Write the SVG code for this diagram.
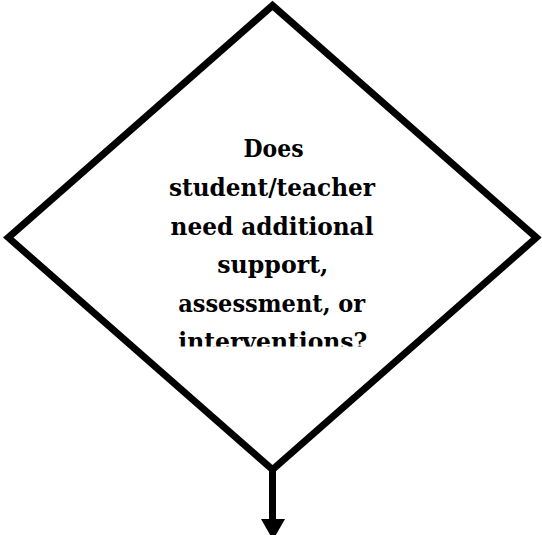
<svg xmlns="http://www.w3.org/2000/svg" width="542" height="535" viewBox="0 0 542 535">
<style>
.shape{fill:#fff;stroke:#000;stroke-width:7;stroke-linejoin:miter;stroke-miterlimit:10}
.lbl{font-family:"DejaVu Serif","Liberation Serif",serif;font-size:24px;font-weight:bold;fill:#000;text-anchor:middle}
.conn{stroke:#000;stroke-width:7;fill:none}
</style>
<defs>
<clipPath id="txtclip"><rect x="140" y="120" width="265" height="226.5"/></clipPath>
</defs>
<rect width="542" height="535" fill="#fff"/>
<g id="decision">
<path class="shape" d="M272.5,5.5 L536.4,237.6 L272.5,469.7 L8.3,237.6 Z"/>
<g clip-path="url(#txtclip)">
<text class="lbl" x="273.5" y="157" textLength="60" lengthAdjust="spacingAndGlyphs">Does</text>
<text class="lbl" x="272" y="196" textLength="206" lengthAdjust="spacingAndGlyphs">student/teacher</text>
<text class="lbl" x="272" y="234.5" textLength="203" lengthAdjust="spacingAndGlyphs">need additional</text>
<text class="lbl" x="272.8" y="273" textLength="111" lengthAdjust="spacingAndGlyphs">support,</text>
<text class="lbl" x="271.7" y="311.5" textLength="187" lengthAdjust="spacingAndGlyphs">assessment, or</text>
<text class="lbl" x="272.8" y="350" textLength="189" lengthAdjust="spacingAndGlyphs">interventions?</text>
</g>
</g>
<g id="connectors">
<line class="conn" x1="272.5" y1="469.7" x2="272.5" y2="520"/>
<polygon points="261,519 285,519 273,540" fill="#000"/>
</g>
</svg>
